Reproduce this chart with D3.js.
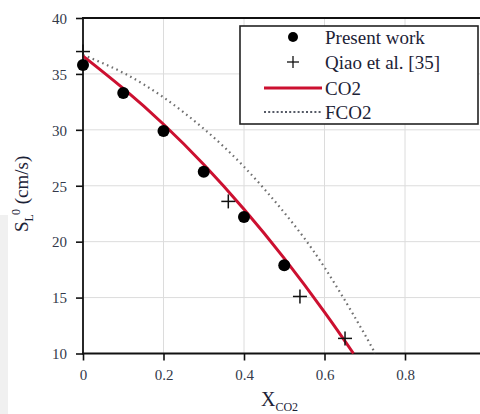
<!DOCTYPE html>
<html>
<head>
<meta charset="utf-8">
<script src="https://cdn.jsdelivr.net/npm/d3@7"></script>
<style>
  html, body { margin: 0; padding: 0; background: #fff; }
  svg { display: block; }
  text { font-family: "Liberation Serif", "Times New Roman", serif; }
</style>
</head>
<body>
<svg id="chart" width="480" height="414"></svg>
<script>
// Laminar burning velocity vs CO2 mole fraction
const presentX = [0, 0.1, 0.2, 0.3, 0.4, 0.5];
const presentY = [35.8, 33.3, 29.9, 26.25, 22.2, 17.9];

const qiaoX = [0, 0.361, 0.539, 0.651];
const qiaoY = [37.0, 23.6, 15.1, 11.35];

const co2X = [0, 0.1, 0.2, 0.3, 0.4, 0.5, 0.6, 0.672];
const co2Y = [36.6, 33.7, 30.5, 26.9, 22.9, 18.5, 13.7, 10];

const fco2X = [0, 0.1, 0.2, 0.3, 0.4, 0.5, 0.6, 0.7, 0.725];
const fco2Y = [36.7, 35.1, 32.9, 30.1, 26.7, 22.6, 17.7, 11.7, 10];

const xTicks = [0, 0.2, 0.4, 0.6, 0.8];
const yTicks = [10, 15, 20, 25, 30, 35, 40];
const legendLabels = ["Present work", "Qiao et al. [35]", "CO2", "FCO2"];

const svg = d3.select("#chart");
const W = 480, H = 414;

const x = d3.scaleLinear().domain([0, 1]).range([83, 485.5]);
const y = d3.scaleLinear().domain([10, 40]).range([353.5, 18]);

// faint grey strip on the left edge
svg.append("rect").attr("x", 0).attr("y", 215).attr("width", 8).attr("height", H - 215)
  .attr("fill", "#f0f0f0");

// grid
const grid = svg.append("g").attr("stroke", "#dcdcdc").attr("stroke-width", 1);
grid.selectAll("line.v").data(xTicks.filter(d => d > 0)).join("line")
  .attr("x1", d => x(d)).attr("x2", d => x(d))
  .attr("y1", y(40)).attr("y2", y(10));
grid.selectAll("line.h").data(yTicks.filter(d => d > 10 && d < 40)).join("line")
  .attr("x1", x(0)).attr("x2", W)
  .attr("y1", d => y(d)).attr("y2", d => y(d));

// axes
const xAxis = d3.axisBottom(x).tickValues(xTicks).tickSize(7).tickPadding(9)
  .tickFormat(d => d === 0 ? "0" : d3.format(".1f")(d));
const gx = svg.append("g").attr("transform", `translate(0,${y(10)})`).call(xAxis);
const yAxis = d3.axisLeft(y).tickValues(yTicks).tickSize(7).tickPadding(9);
const gy = svg.append("g").attr("transform", `translate(${x(0)},0)`).call(yAxis);
[gx, gy].forEach(g => {
  g.select(".domain").remove();
  g.selectAll(".tick line").attr("stroke", "#111").attr("stroke-width", 1.6);
  g.selectAll(".tick text").attr("font-family", "Liberation Serif, serif")
    .attr("font-size", 15).attr("fill", "#33394a");
});
gy.selectAll(".tick text").attr("dy", "0.35em");

// frame lines: left, bottom, top
const frame = svg.append("g").attr("stroke", "#111").attr("stroke-width", 1.8);
frame.append("line").attr("x1", x(0)).attr("x2", x(0)).attr("y1", y(40)).attr("y2", y(10));
frame.append("line").attr("x1", x(0) - 1).attr("x2", W).attr("y1", y(10)).attr("y2", y(10));
frame.append("line").attr("x1", x(0) - 1).attr("x2", W).attr("y1", y(40)).attr("y2", y(40));

// model curves
const line = d3.line().x(d => x(d[0])).y(d => y(d[1])).curve(d3.curveNatural);
svg.append("path").datum(d3.zip(fco2X, fco2Y)).attr("d", line)
  .attr("fill", "none").attr("stroke", "#707070").attr("stroke-width", 2.2)
  .attr("stroke-dasharray", "1.6,3.6");
svg.append("path").datum(d3.zip(co2X, co2Y)).attr("d", line)
  .attr("fill", "none").attr("stroke", "#cc1030").attr("stroke-width", 3);

// measured points
svg.append("g").selectAll("circle").data(d3.zip(presentX, presentY)).join("circle")
  .attr("cx", d => x(d[0])).attr("cy", d => y(d[1])).attr("r", 6).attr("fill", "#000");

const plus = (g, cx, cy, s) => {
  g.append("line").attr("x1", cx - s).attr("x2", cx + s).attr("y1", cy).attr("y2", cy);
  g.append("line").attr("x1", cx).attr("x2", cx).attr("y1", cy - s).attr("y2", cy + s);
};
const gq = svg.append("g").attr("stroke", "#111").attr("stroke-width", 1.5);
d3.zip(qiaoX, qiaoY).forEach(d => plus(gq, x(d[0]), y(d[1]), 7));

// legend
const lg = svg.append("g");
lg.append("rect").attr("x", 240).attr("y", 26).attr("width", 238).attr("height", 98)
  .attr("fill", "#fff").attr("stroke", "#222").attr("stroke-width", 1.6);
const rowY = [37, 62, 88, 112];
lg.append("circle").attr("cx", 293).attr("cy", rowY[0]).attr("r", 5).attr("fill", "#000");
const lgp = lg.append("g").attr("stroke", "#111").attr("stroke-width", 1.3);
plus(lgp, 293, rowY[1], 6);
lg.append("line").attr("x1", 264).attr("x2", 322).attr("y1", rowY[2]).attr("y2", rowY[2])
  .attr("stroke", "#cc1030").attr("stroke-width", 3);
lg.append("line").attr("x1", 264).attr("x2", 322).attr("y1", rowY[3]).attr("y2", rowY[3])
  .attr("stroke", "#555a66").attr("stroke-width", 2.2).attr("stroke-dasharray", "2,2.2");
lg.selectAll("text").data(legendLabels).join("text")
  .attr("x", 325).attr("y", (d, i) => rowY[i] + 7)
  .attr("font-size", 19).attr("fill", "#1c2236").text(d => d);

// axis titles
const xt = svg.append("text").attr("x", 261).attr("y", 406).attr("font-size", 20).attr("fill", "#1c2236");
xt.append("tspan").text("X");
xt.append("tspan").attr("font-size", 12).attr("dy", 5).text("CO2");

const yt = svg.append("text").attr("transform", "translate(28,232) rotate(-90)")
  .attr("font-size", 19).attr("fill", "#1c2236");
yt.append("tspan").text("S");
yt.append("tspan").attr("font-size", 12).attr("dy", 5).text("L");
yt.append("tspan").attr("font-size", 12).attr("dy", -13).attr("dx", -1).text("0");
yt.append("tspan").attr("dy", 8).text(" (cm/s)");
</script>
</body>
</html>
